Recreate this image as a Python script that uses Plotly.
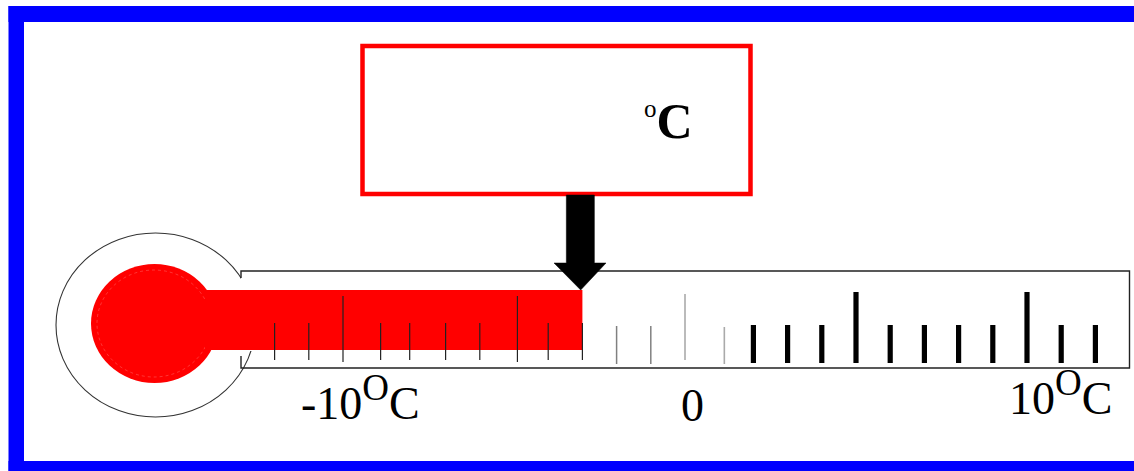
import plotly.graph_objects as go

# ---- values (degrees C) ----
current_temp = -3
left_scale_temps = [-12, -11, -10, -8.9, -8.05, -7, -6, -4.9, -4, -3]
mid_scale_temps = [-2, -1]
pale_scale_temps = [0, 1.15]
right_scale_temps = [2, 3, 4, 5, 6, 7, 8, 9, 10, 11, 12]
major_temps = [-10, -4.9, 0, 5, 10]
scale_labels = ["-10<sup><span style='font-size:37px'>O</span></sup>C", "0",
                "10<sup><span style='font-size:37px'>O</span></sup>C"]
label_temps = [-9.5, 0.22, 10.97]
readout_text = "<sup><span style='font-size:25px'>o</span></sup><b>C</b>"

# ---- drawing geometry: the x axis is temperature, the y axis is page pixels ----
W, H = 1134, 471
PX_PER_DEG = 34.2
ZERO_PX = 685


def tx(px):
    return (px - ZERO_PX) / PX_PER_DEG


def ticks(temps, minor, major):
    xs, ys = [], []
    for t in temps:
        top, bot = major if t in major_temps else minor
        xs += [t, t, None]
        ys += [top, bot, None]
    return xs, ys


fig = go.Figure()


def rect(x0, y0, x1, y1, fill="#ffffff", line=None, lw=0, kind="rect"):
    fig.add_shape(type=kind, xref="x", yref="y", x0=tx(x0), x1=tx(x1), y0=y0, y1=y1,
                  fillcolor=fill, line=dict(color=line or fill, width=lw), layer="below")


BLUE = "#0000ff"
RED = "#ff0000"
# frame
rect(8.5, 6, W + 5, 22, BLUE)
rect(8.5, 6, 24, H + 5, BLUE)
rect(8.5, 461, W + 5, H + 5, BLUE)
# bulb outline, opened where the tube joins it
rect(56, 233, 255, 417, "#ffffff", "#333333", 1.1, "circle")
rect(241, 272, 262, 351, "#ffffff")
# tube
fig.add_trace(go.Scatter(
    x=[tx(241), tx(241), tx(1129.5), tx(1129.5), tx(241), tx(241)],
    y=[278, 271, 271, 368, 368, 356],
    mode="lines", line=dict(color="#222222", width=1.4), hoverinfo="skip"))
# mercury
rect(91, 264, 218, 383, RED, RED, 0, "circle")
fig.add_shape(type="circle", xref="x", yref="y", x0=tx(97), x1=tx(211), y0=270, y1=377,
              line=dict(color="rgba(255,255,255,0.3)", width=0.7, dash="dot"), layer="below")
fig.add_trace(go.Bar(x=[(tx(205) + current_temp) / 2], y=[60], base=[290], width=[current_temp - tx(205)],
                     marker=dict(color=RED, line=dict(width=0)), hoverinfo="skip"))

# scale
for temps, minor, major, color, width in [
    (left_scale_temps, (323, 360), (296, 362), "#222222", 1.2),
    (mid_scale_temps, (326, 364), (296, 364), "#808080", 1.5),
    (pale_scale_temps, (327, 364), (294, 360), "#aaaaaa", 1.6),
    (right_scale_temps, (325, 363), (292, 363), "#000000", 5.2),
]:
    xs, ys = ticks(temps, minor, major)
    fig.add_trace(go.Scatter(x=xs, y=ys, mode="lines", hoverinfo="skip",
                             line=dict(color=color, width=width)))

# arrow pointing at the current value
fig.add_trace(go.Scatter(
    x=[current_temp - 0.47, current_temp + 0.35, current_temp + 0.35, current_temp + 0.69,
       current_temp - 0.05, current_temp - 0.83, current_temp - 0.47, current_temp - 0.47],
    y=[195, 195, 263, 263, 290, 263, 263, 195],
    mode="lines", fill="toself", fillcolor="#000000", line=dict(color="#000000", width=0.5),
    hoverinfo="skip"))

# readout box
rect(362.5, 46, 750.5, 194, "rgba(255,255,255,0)", RED, 4.5)

FONT = "Liberation Serif"
annotations = [dict(x=tx(668), y=120.5, text=readout_text, showarrow=False, xanchor="center",
                    yanchor="middle", font=dict(family=FONT, size=50, color="#000000"))]
label_y = [398, 405.5, 393]
for label, temp, y in zip(scale_labels, label_temps, label_y):
    annotations.append(dict(x=temp, y=y, text=label, showarrow=False, xanchor="center", yanchor="middle",
                            font=dict(family=FONT, size=46, color="#000000")))

fig.update_layout(
    width=W, height=H, margin=dict(l=0, r=0, t=0, b=0), showlegend=False,
    paper_bgcolor="#ffffff", plot_bgcolor="#ffffff", annotations=annotations, barmode="overlay",
    xaxis=dict(range=[tx(0), tx(W)], visible=False, fixedrange=True),
    yaxis=dict(range=[H, 0], visible=False, fixedrange=True),
)
fig.write_html("out.html", config={"displayModeBar": False},
               post_script="document.body.style.margin='0';document.body.style.overflow='hidden';")
